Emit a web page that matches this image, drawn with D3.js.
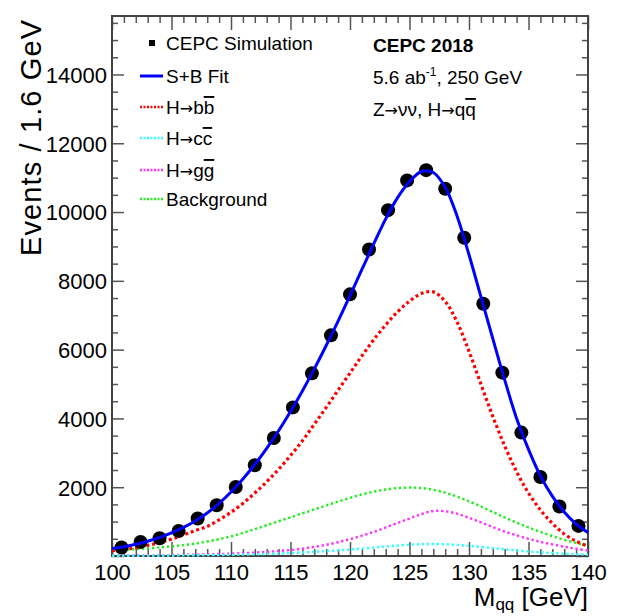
<!DOCTYPE html>
<html>
<head>
  <meta charset="utf-8">
  <title>CEPC Mqq fit</title>
  <script src="https://d3js.org/d3.v7.min.js"></script>
  <style>
    body { margin: 0; background: white; }
    svg { font-family: "Liberation Sans", Arial, Helvetica, sans-serif; }
    .tick text { font-size: 22px; fill: #000; }
    .tick line { stroke: #555; stroke-width: 1.5px; }
    .curve { fill: none; }
  </style>
</head>
<body>
<script>
  // Data: simulated events per 1.6 GeV bin
  var binCenters = [100.8, 102.4, 104.0, 105.6, 107.2, 108.8, 110.4, 112.0, 113.6, 115.2,
                    116.8, 118.4, 120.0, 121.6, 123.2, 124.8, 126.4, 128.0, 129.6, 131.2,
                    132.8, 134.4, 136.0, 137.6, 139.2];
  var binEvents = [247, 410, 517, 730, 1090, 1476, 2008, 2638, 3431, 4320,
                   5311, 6415, 7607, 8913, 10055, 10920, 11218, 10677, 9253, 7336,
                   5331, 3588, 2298, 1438, 875];

  // Fit curves sampled every 1 GeV
  var fitMass = [100, 101, 102, 103, 104, 105, 106, 107, 108, 109, 110, 111, 112, 113, 114,
                 115, 116, 117, 118, 119, 120, 121, 122, 123, 124, 125, 126, 127, 128, 129,
                 130, 131, 132, 133, 134, 135, 136, 137, 138, 139, 140];
  var fitSB  = [215, 270, 340, 430, 540, 670, 830, 1020, 1250, 1530, 1860, 2240, 2660, 3130, 3640,
                4200, 4800, 5440, 6120, 6830, 7570, 8330, 9080, 9800, 10420, 10880, 11180, 11150, 10720, 9880,
                8760, 7540, 6320, 5120, 4000, 3100, 2330, 1740, 1280, 930, 680];
  var fitBB  = [150, 190, 240, 310, 390, 490, 610, 740, 860, 1050, 1270, 1530, 1830, 2160, 2520,
                2920, 3350, 3830, 4320, 4820, 5320, 5820, 6290, 6720, 7100, 7410, 7630, 7680, 7400, 6800,
                5950, 5000, 4060, 3200, 2450, 1830, 1340, 950, 640, 430, 280];
  var fitCC  = [8, 9, 10, 12, 14, 16, 19, 22, 26, 30, 35, 42, 50, 60, 72,
                86, 102, 120, 142, 165, 190, 215, 245, 275, 305, 330, 345, 350, 342, 322,
                295, 262, 228, 195, 162, 132, 106, 85, 67, 53, 42];
  var fitGG  = [10, 12, 15, 18, 22, 27, 33, 40, 48, 58, 70, 85, 100, 120, 145,
                175, 215, 265, 325, 400, 490, 590, 700, 830, 960, 1090, 1220, 1310, 1300, 1230,
                1110, 980, 840, 710, 600, 500, 410, 340, 270, 210, 160];
  var fitBkg = [170, 185, 200, 222, 250, 280, 315, 360, 420, 490, 570, 670, 780, 895, 1010,
                1125, 1240, 1355, 1470, 1580, 1690, 1790, 1870, 1935, 1975, 1990, 1975, 1925, 1840, 1725,
                1590, 1440, 1280, 1120, 970, 830, 700, 580, 470, 380, 310];

  var yMajor = [0, 2000, 4000, 6000, 8000, 10000, 12000, 14000];
  var xMajor = [100, 105, 110, 115, 120, 125, 130, 135, 140];

  var width = 618, height = 616;
  var plot = {left: 112, right: 588, top: 16, bottom: 556};

  var svg = d3.select("body").append("svg")
      .attr("width", width)
      .attr("height", height);

  var x = d3.scaleLinear().domain([100, 140]).range([plot.left, plot.right]);
  var y = d3.scaleLinear().domain([0, 15700]).range([plot.bottom, plot.top]);

  var xMinor = d3.range(100, 141, 1).filter(function(v) { return v % 5 !== 0; });
  var yMinor = d3.range(0, 15700, 500).filter(function(v) { return v % 2000 !== 0; });

  // axes (ROOT style: ticks inside on all four sides)
  function addAxis(axis, tx, ty) {
    var g = svg.append("g").attr("transform", "translate(" + tx + "," + ty + ")").call(axis);
    g.select(".domain").remove();
    return g;
  }
  addAxis(d3.axisLeft(y).tickValues(yMajor).tickSize(-12).tickPadding(5)
            .tickFormat(function(d) { return d === 0 ? "" : d; }), plot.left, 0)
    .selectAll("text").attr("dy", "0.36em");
  addAxis(d3.axisLeft(y).tickValues(yMinor).tickSize(-6).tickFormat(""), plot.left, 0);
  addAxis(d3.axisRight(y).tickValues(yMajor).tickSize(-12).tickFormat(""), plot.right, 0);
  addAxis(d3.axisRight(y).tickValues(yMinor).tickSize(-6).tickFormat(""), plot.right, 0);
  addAxis(d3.axisBottom(x).tickValues(xMajor).tickSize(-14).tickPadding(8)
            .tickFormat(d3.format("d")), 0, plot.bottom)
    .selectAll("text").attr("dy", "0.71em");
  addAxis(d3.axisBottom(x).tickValues(xMinor).tickSize(-7).tickFormat(""), 0, plot.bottom);
  addAxis(d3.axisTop(x).tickValues(xMajor).tickSize(-14).tickFormat(""), 0, plot.top);
  addAxis(d3.axisTop(x).tickValues(xMinor).tickSize(-7).tickFormat(""), 0, plot.top);

  // frame
  svg.append("rect")
      .attr("x", plot.left).attr("y", plot.top)
      .attr("width", plot.right - plot.left).attr("height", plot.bottom - plot.top)
      .attr("fill", "none").attr("stroke", "#444").attr("stroke-width", 2);

  // curves
  var line = d3.line()
      .curve(d3.curveCatmullRom)
      .x(function(d) { return x(d[0]); })
      .y(function(d) { return y(d[1]); });

  function pairs(vals) { return fitMass.map(function(m, i) { return [m, vals[i]]; }); }

  var curves = [
    {vals: fitBkg, color: "#22ee22", w: 2.4, dash: "2.4,2.6"},
    {vals: fitGG,  color: "#ff33ff", w: 2.4, dash: "2.4,2.6"},
    {vals: fitCC,  color: "#33ffff", w: 2.4, dash: "2.4,2.6"},
    {vals: fitBB,  color: "#ff0000", w: 3.2, dash: "3,2.8"}
  ];
  curves.forEach(function(c) {
    svg.append("path")
        .attr("class", "curve")
        .attr("d", line(pairs(c.vals)))
        .attr("stroke", c.color)
        .attr("stroke-width", c.w)
        .attr("stroke-dasharray", c.dash);
  });

  // data points
  svg.append("g").selectAll("circle")
      .data(binCenters)
      .enter().append("circle")
      .attr("cx", function(d) { return x(d); })
      .attr("cy", function(d, i) { return y(binEvents[i]); })
      .attr("r", 7)
      .attr("fill", "#000");

  svg.append("path")
      .attr("class", "curve")
      .attr("d", line(pairs(fitSB)))
      .attr("stroke", "#0000ff")
      .attr("stroke-width", 3);

  // axis titles
  svg.append("text")
      .attr("transform", "translate(41,20) rotate(-90)")
      .attr("text-anchor", "end")
      .style("font-size", "29px")
      .attr("textLength", 236)
      .attr("lengthAdjust", "spacing")
      .text("Events / 1.6  GeV");

  var xt = svg.append("text")
      .attr("x", plot.right).attr("y", 606)
      .attr("text-anchor", "end")
      .style("font-size", "26px");
  xt.append("tspan").text("M");
  xt.append("tspan").attr("dy", 4).style("font-size", "17px").text("qq");
  xt.append("tspan").attr("dy", -4).text(" [GeV]");

  // legend
  var legendRows = [
    {type: "marker", label: ["CEPC Simulation"]},
    {type: "line", color: "#0000ff", dash: null, w: 3, label: ["S+B Fit"]},
    {type: "line", color: "#ff0000", dash: "2,1.5", w: 2.5, label: ["H", "b", "b"]},
    {type: "line", color: "#33ffff", dash: "2,1.5", w: 2.5, label: ["H", "c", "c"]},
    {type: "line", color: "#ff33ff", dash: "2,1.5", w: 2.5, label: ["H", "g", "g"]},
    {type: "line", color: "#22ee22", dash: "2,1.5", w: 2.5, label: ["Background"]}
  ];
  var legendY = [43, 76, 107, 138, 170, 199];

  function arrow(t) {
    t.append("tspan").style("font-family", "'DejaVu Sans'").style("font-size", "16px").text("\u2192");
  }

  legendRows.forEach(function(r, i) {
    var cy = legendY[i];
    if (r.type === "marker") {
      svg.append("rect").attr("x", 149).attr("y", cy - 3).attr("width", 6).attr("height", 6).attr("fill", "#000");
    } else {
      var l = svg.append("line").attr("x1", 140).attr("x2", 163).attr("y1", cy).attr("y2", cy)
          .attr("stroke", r.color).attr("stroke-width", r.w);
      if (r.dash) l.attr("stroke-dasharray", r.dash);
    }
    var t = svg.append("text").attr("x", 166).attr("y", cy + 7).style("font-size", "19px");
    t.append("tspan").text(r.label[0]);
    if (r.label.length > 1) {
      arrow(t);
      t.append("tspan").text(r.label[1]);
      t.append("tspan").style("text-decoration", "overline").text(r.label[2]);
    }
  });

  // labels, top right
  svg.append("text").attr("x", 373).attr("y", 52)
      .style("font-size", "19px").style("font-weight", "bold").text("CEPC 2018");
  var lum = svg.append("text").attr("x", 373).attr("y", 84).style("font-size", "19px");
  lum.append("tspan").text("5.6 ab");
  lum.append("tspan").attr("dy", -8).style("font-size", "12px").text("-1");
  lum.append("tspan").attr("dy", 8).text(", 250 GeV");
  var proc = svg.append("text").attr("x", 373).attr("y", 116).style("font-size", "19px");
  proc.append("tspan").text("Z");
  arrow(proc);
  proc.append("tspan").text("\u03bd\u03bd, H");
  arrow(proc);
  proc.append("tspan").text("q");
  proc.append("tspan").style("text-decoration", "overline").text("q");
</script>
</body>
</html>
